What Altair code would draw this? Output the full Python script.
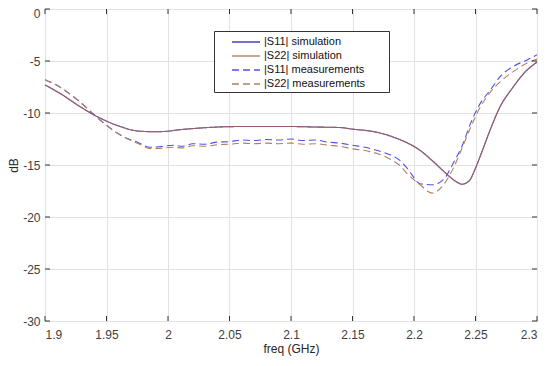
import altair as alt
import pandas as pd

# ---------------- data ----------------
freq_sim = [1.90, 1.912, 1.93, 1.945, 1.96, 1.977, 1.99, 2.00, 2.01, 2.02, 2.04, 2.06,
            2.08, 2.10, 2.12, 2.14, 2.15, 2.165, 2.175, 2.185, 2.195, 2.205, 2.215, 2.225,
            2.233, 2.239, 2.245, 2.25, 2.255, 2.262, 2.27, 2.28, 2.29, 2.30]
s11_sim = [-7.3, -8.1, -9.5, -10.5, -11.25, -11.75, -11.8, -11.75, -11.6, -11.5, -11.35, -11.3,
           -11.3, -11.3, -11.35, -11.4, -11.55, -11.75, -12.0, -12.4, -12.9, -13.6, -14.6, -15.7,
           -16.5, -16.85, -16.5, -15.3, -13.8, -11.6, -9.4, -7.6, -6.1, -5.1]
s22_sim = [-7.3, -8.1, -9.5, -10.5, -11.25, -11.75, -11.8, -11.75, -11.6, -11.5, -11.35, -11.3,
           -11.3, -11.3, -11.35, -11.4, -11.55, -11.75, -12.0, -12.4, -12.9, -13.6, -14.6, -15.7,
           -16.5, -16.85, -16.5, -15.3, -13.8, -11.6, -9.4, -7.6, -6.1, -5.1]

freq_meas = [1.90, 1.912, 1.928, 1.945, 1.961, 1.977, 1.985, 1.993, 2.004, 2.012, 2.02, 2.03,
             2.04, 2.05, 2.06, 2.07, 2.08, 2.09, 2.10, 2.11, 2.12, 2.13, 2.14, 2.15, 2.16,
             2.17, 2.18, 2.188, 2.195, 2.205, 2.215, 2.224, 2.232, 2.239, 2.246, 2.254,
             2.262, 2.27, 2.281, 2.292, 2.30]
s11_meas = [-6.8, -7.5, -8.9, -10.7, -12.1, -12.9, -13.3, -13.25, -13.1, -13.2, -12.95, -13.0,
            -12.8, -12.75, -12.6, -12.65, -12.55, -12.6, -12.5, -12.65, -12.6, -12.8, -12.9,
            -13.1, -13.3, -13.6, -14.0, -14.5, -15.4, -16.8, -16.9, -16.4, -14.8, -13.2,
            -11.0, -9.05, -7.8, -6.5, -5.5, -4.9, -4.4]
s22_meas = [-6.8, -7.5, -8.9, -10.7, -12.1, -13.0, -13.4, -13.4, -13.3, -13.35, -13.15, -13.2,
            -13.05, -13.0, -12.9, -12.95, -12.9, -12.95, -12.9, -13.0, -12.95, -13.1, -13.2,
            -13.45, -13.6, -13.9, -14.4, -15.0, -15.9, -16.9, -17.7, -16.9, -15.3, -13.4,
            -11.4, -9.4, -8.0, -7.0, -6.0, -5.2, -4.8]

series_names = ["|S11| simulation", "|S22| simulation",
                "|S11| measurements", "|S22| measurements"]
series_colors = ["#4a3fc0", "rgba(168,104,72,0.78)", "#5050e8", "#b08060"]
series_dash = [[1, 0], [1, 0], [7, 4], [7, 4]]

x_ticks = [1.9, 1.95, 2.0, 2.05, 2.1, 2.15, 2.2, 2.25, 2.3]
y_ticks = [-30, -25, -20, -15, -10, -5, 0]

# ---------------- build table ----------------
rows = []
order = [(2, freq_meas, s11_meas), (3, freq_meas, s22_meas),
         (0, freq_sim, s11_sim), (1, freq_sim, s22_sim)]
for k, (idx, fr, vals) in enumerate(order):
    for i, (f, v) in enumerate(zip(fr, vals)):
        rows.append({"freq": f, "dB": v, "series": series_names[idx], "ord": k, "i": i})
df = pd.DataFrame(rows)

W, H = 492, 312
xscale = alt.Scale(domain=[1.9, 2.3], nice=False, zero=False)
yscale = alt.Scale(domain=[-30, 0], nice=False, zero=False)

pad_label = "datum.label + '" + "\u00a0" * 4 + "\u2800'"

lines = alt.Chart(df).mark_line(strokeWidth=1.1, interpolate="monotone").encode(
    x=alt.X("freq:Q", scale=xscale, title="freq (GHz)",
            axis=alt.Axis(values=x_ticks, labelExpr="toString(datum.value)",
                          labelPadding=8, titlePadding=3)),
    y=alt.Y("dB:Q", scale=yscale, title="dB",
            axis=alt.Axis(values=y_ticks, labelExpr="toString(datum.value)",
                          labelPadding=5,
                          labelOffset={"condition": {"test": "datum.value === 0", "value": 4},
                                       "value": 0},
                          titleX=-28, titleY=H / 2, titleBaseline="alphabetic",
                          titleAngle=270)),
    color=alt.Color("series:N", title=None,
                    scale=alt.Scale(domain=series_names, range=series_colors),
                    legend=alt.Legend(
                        orient="none", legendX=169, legendY=22,
                        symbolType="M-2,0H2", symbolSize=196, symbolStrokeWidth=1.3,
                        symbolOffset=21, labelOffset=10, padding=3, rowPadding=1,
                        labelFont="Liberation Sans", labelFontSize=11, labelColor="#111",
                        labelExpr=pad_label,
                        strokeColor="#333", fillColor="white")),
    strokeDash=alt.StrokeDash("series:N", title=None,
                              scale=alt.Scale(domain=series_names, range=series_dash)),
    detail="ord:N",
    order="i:Q",
)

tickx_df = pd.DataFrame({"t": x_ticks})
ticky_df = pd.DataFrame({"t": y_ticks})
tick_color = "#333333"
bottom_ticks = alt.Chart(tickx_df).mark_rule(color=tick_color).encode(
    x=alt.X("t:Q", scale=xscale), y=alt.value(H), y2=alt.value(H - 5))
top_ticks = alt.Chart(tickx_df).mark_rule(color=tick_color).encode(
    x=alt.X("t:Q", scale=xscale), y=alt.value(0), y2=alt.value(5))
left_ticks = alt.Chart(ticky_df).mark_rule(color=tick_color).encode(
    y=alt.Y("t:Q", scale=yscale), x=alt.value(0), x2=alt.value(5))
right_ticks = alt.Chart(ticky_df).mark_rule(color=tick_color).encode(
    y=alt.Y("t:Q", scale=yscale), x=alt.value(W), x2=alt.value(W - 5))

chart = alt.layer(lines, bottom_ticks, top_ticks, left_ticks, right_ticks).properties(
    width=W, height=H,
    autosize=alt.AutoSizeParams(type="none"),
    padding={"left": 37, "top": 1, "right": 5, "bottom": 37},
).configure_view(
    stroke="#333333", strokeWidth=1
).configure_axis(
    domain=False, ticks=False,
    grid=True, gridColor="#e2e2e2", gridWidth=1,
    labelFont="Liberation Sans", labelFontSize=12, labelColor="#404040",
    titleFont="Liberation Sans", titleFontSize=12, titleColor="#262626",
    titleFontWeight="normal",
)

chart.save("out.html", embed_options={"renderer": "svg", "actions": False})
